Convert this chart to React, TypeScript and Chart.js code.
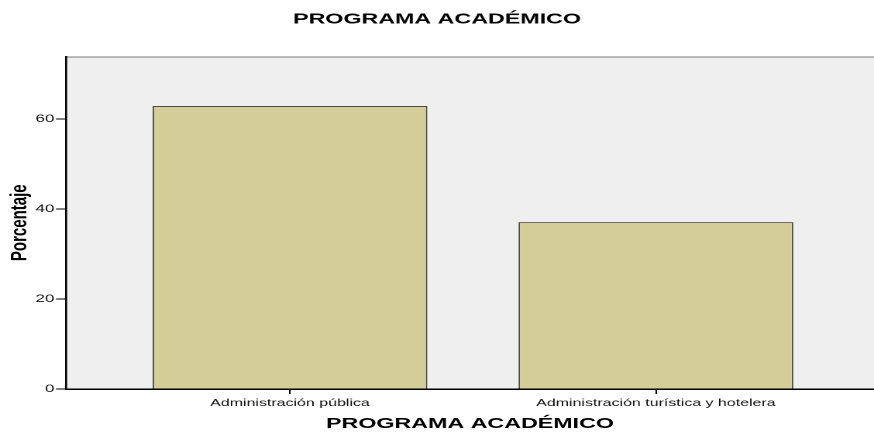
import React, { useEffect, useRef } from "react";
import { Chart, registerables } from "chart.js";

Chart.register(...registerables);

const CATEGORIES: string[] = ["Administración pública", "Administración turística y hotelera"];
const PERCENTAGES: number[] = [62.9, 37.1];
const Y_TICKS: number[] = [0, 20, 40, 60];
const TITLE = "PROGRAMA ACADÉMICO";
const Y_TITLE = "Porcentaje";

const STRETCH = 874 / 564;
const FONT = "'Liberation Sans', Arial, sans-serif";

const bgPlugin = {
  id: "plotBg",
  beforeDraw(chart: any) {
    const { ctx, chartArea } = chart;
    const { left, top, right, bottom } = chartArea;
    ctx.save();
    ctx.fillStyle = "#efefef";
    ctx.fillRect(left, top, right - left, bottom - top);
    ctx.strokeStyle = "#7c7c7c";
    ctx.lineWidth = 1;
    ctx.beginPath();
    ctx.moveTo(left, top + 0.5);
    ctx.lineTo(right, top + 0.5);
    ctx.stroke();
    ctx.restore();
  },
};

export default function App() {
  const canvasRef = useRef<HTMLCanvasElement | null>(null);

  useEffect(() => {
    if (!canvasRef.current) return;
    const chart = new Chart(canvasRef.current, {
      type: "bar",
      data: {
        datasets: [
          {
            data: PERCENTAGES.map((v, i) => ({ x: i, y: v })),
            backgroundColor: "#d3ce98",
            borderColor: "#4a4a46",
            borderWidth: 1,
            categoryPercentage: 1,
            barPercentage: 0.751,
          } as any,
        ],
      },
      plugins: [bgPlugin],
      options: {
        responsive: false,
        animation: false,
        devicePixelRatio: 2,
        layout: { padding: 0 },
        plugins: {
          legend: { display: false },
          tooltip: { enabled: false },
          title: {
            display: true,
            text: TITLE,
            color: "#000",
            font: { family: FONT, size: 15, weight: "bold" },
            padding: { top: 10.5, bottom: 28 },
          },
        },
        scales: {
          x: {
            type: "linear",
            min: -0.612,
            max: 1.596,
            offset: false,
            afterFit: (scale: any) => {
              scale.height = 45;
            },
            afterBuildTicks: (scale: any) => {
              scale.ticks = CATEGORIES.map((_, i) => ({ value: i }));
            },
            ticks: {
              autoSkip: false,
              maxRotation: 0,
              minRotation: 0,
              padding: 3,
              color: "#111",
              font: { family: FONT, size: 10.3 },
              callback: (value: any) => CATEGORIES[Number(value)] ?? "",
            },
            grid: {
              display: true,
              offset: false,
              drawOnChartArea: false,
              drawTicks: true,
              tickLength: 5,
              color: "#000",
              lineWidth: 1,
            },
            border: { display: true, color: "#000", width: 1.5 },
            title: {
              display: true,
              text: TITLE,
              color: "#000",
              font: { family: FONT, size: 15, weight: "bold" },
              padding: { top: 0, bottom: 1 },
            },
          },
          y: {
            type: "linear",
            min: 0,
            max: 73.9,
            afterFit: (scale: any) => {
              scale.width = 42.6;
            },
            afterBuildTicks: (scale: any) => {
              scale.ticks = Y_TICKS.map((v) => ({ value: v }));
            },
            ticks: {
              includeBounds: false,
              padding: 1,
              color: "#111",
              font: { family: FONT, size: 11 },
            },
            grid: {
              display: true,
              drawOnChartArea: false,
              drawTicks: true,
              tickLength: 6.5,
              color: "#000",
              lineWidth: 1,
            },
            border: { display: true, color: "#000", width: 1.3 },
            title: {
              display: true,
              text: Y_TITLE,
              color: "#000",
              font: { family: FONT, size: 15, weight: "bold" },
              padding: { top: 4, bottom: 0 },
            },
          },
        },
      } as any,
    });
    return () => chart.destroy();
  }, []);

  return (
    <div
      style={{
        position: "fixed",
        left: 0,
        top: 0,
        width: 874,
        height: 434,
        overflow: "hidden",
        background: "#fff",
      }}
    >
      <div
        style={{
          width: 564,
          height: 434,
          transform: `scaleX(${STRETCH})`,
          transformOrigin: "0 0",
        }}
      >
        <canvas ref={canvasRef} width={564} height={434} />
      </div>
    </div>
  );
}
